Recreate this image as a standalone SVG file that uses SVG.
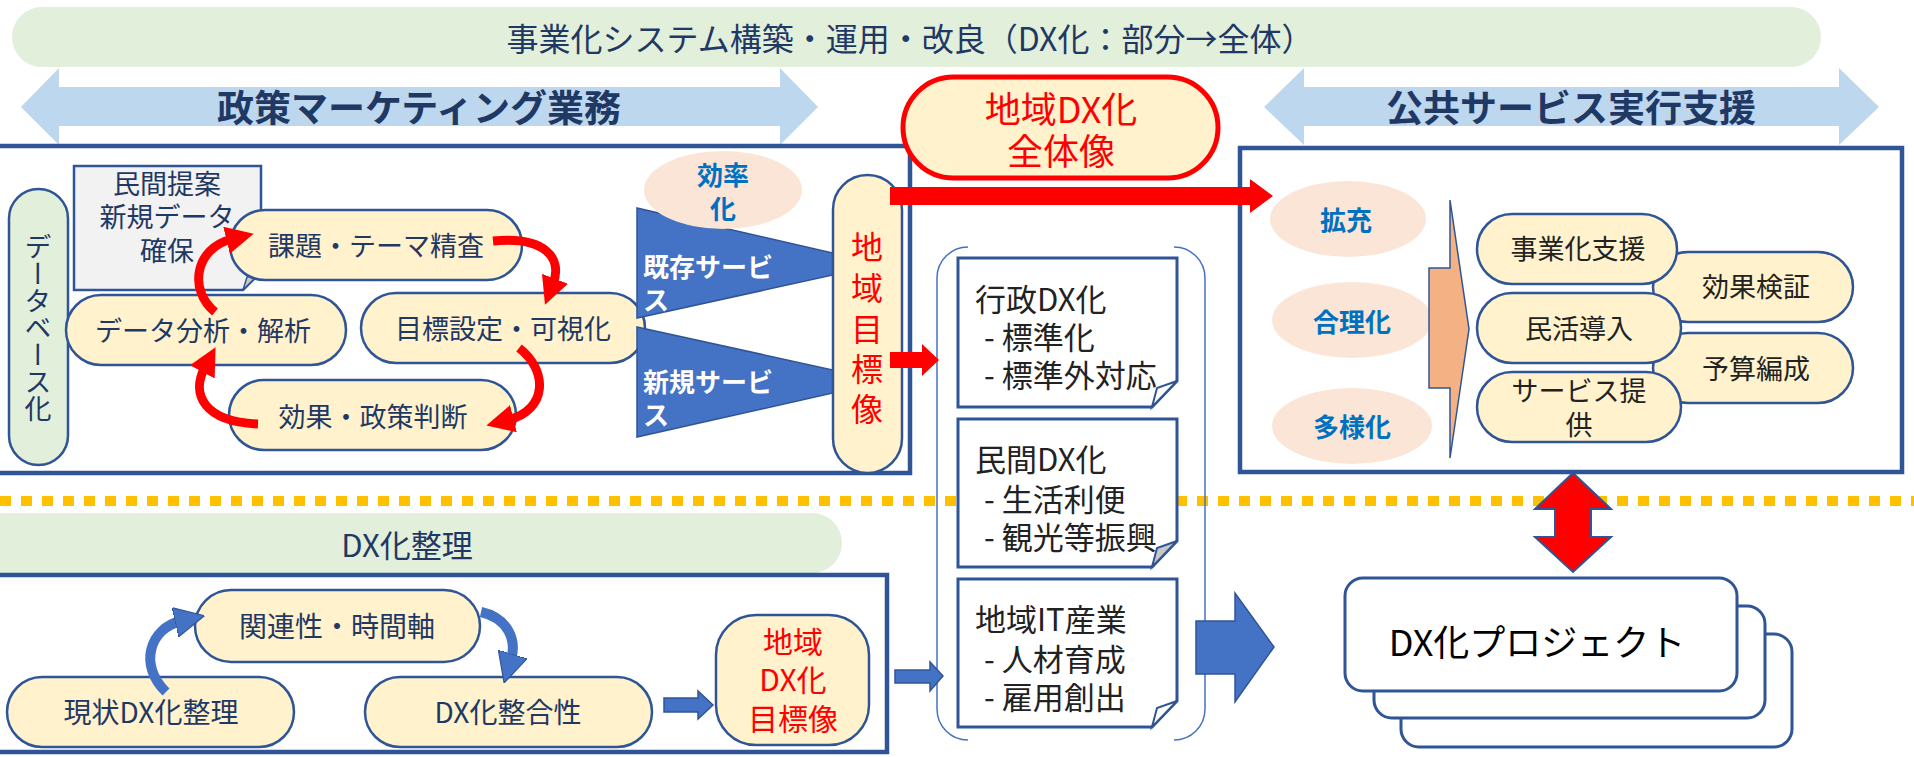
<svg xmlns="http://www.w3.org/2000/svg" width="1914" height="757" viewBox="0 0 1914 757">
<style>
.t{font-family:'Noto Sans CJK JP','Noto Sans',sans-serif;dominant-baseline:central;text-anchor:middle}
.s{text-anchor:start}
.navy{fill:#1F3864}
.dark{fill:#222222}
.red{fill:#FF0000}
.wb{fill:#FFFFFF;font-weight:bold}
.bb{fill:#0070C0;font-weight:bold}
.pill{fill:#FFF2CC;stroke:#2F5597;stroke-width:2.5}
.box{fill:#FFFFFF;stroke:#2F5597;stroke-width:4.5}
.doc{fill:#FFFFFF;stroke:#2F5597;stroke-width:3}
.green{fill:#E2EFDA}
.lb{fill:#BDD7EE}
.peach{fill:#FBE5D6}
.barrow{fill:#4472C4;stroke:#2F5597;stroke-width:1.5}
.rarrow{fill:#FF0000}
.rcurve{fill:none;stroke:#FF0000;stroke-width:9;marker-end:url(#hr)}
.bcurve{fill:none;stroke:#4472C4;stroke-width:10;marker-end:url(#hb)}
</style>
<defs>
<marker id="hr" viewBox="0 0 10 10" refX="2" refY="5" markerWidth="3.1" markerHeight="3.1" orient="auto" markerUnits="strokeWidth"><path d="M0,0 L10,5 L0,10 z" fill="#FF0000"/></marker>
<marker id="hb" viewBox="0 0 10 10" refX="2" refY="5" markerWidth="3" markerHeight="3" orient="auto" markerUnits="strokeWidth"><path d="M0,0 L10,5 L0,10 z" fill="#4472C4" stroke="#2F5597" stroke-width="0.4"/></marker>
</defs>

<!-- background banners -->
<g id="banner-top">
<rect class="green" x="12" y="7" width="1809" height="60" rx="30"/>
<text class="t navy" x="910" y="37" font-size="32">事業化システム構築・運用・改良（DX化：部分→全体）</text>
</g>
<g id="arrow-policy">
<polygon class="lb" points="21,107 59,68 59,87 780,87 780,68 818,107 780,145 780,126 59,126 59,145"/>
<text class="t navy" x="419" y="106" font-size="37" font-weight="bold">政策マーケティング業務</text>
</g>
<g id="arrow-public">
<polygon class="lb" points="1264,107 1304,68 1304,87 1839,87 1839,68 1879,107 1839,145 1839,126 1304,126 1304,145"/>
<text class="t navy" x="1571" y="106" font-size="37" font-weight="bold">公共サービス実行支援</text>
</g>

<!-- dotted divider -->
<line x1="0" y1="501" x2="1914" y2="501" stroke="#FFC000" stroke-width="10" stroke-dasharray="11 10"/>

<!-- left main box -->
<g id="box-marketing">
<rect class="box" x="-10" y="146" width="920" height="327"/>
</g>
<g id="node-database">
<rect x="9" y="189" width="59" height="276" rx="29.5" fill="#E2EFDA" stroke="#2F5597" stroke-width="2.5"/>
<text class="t navy" x="38" y="328" font-size="27" style="writing-mode:vertical-rl">データベース化</text>
</g>
<g id="node-proposal">
<path d="M74 166 H261 V272 L243 290 H74 Z" fill="#F2F2F2" stroke="#2F5597" stroke-width="2.5"/>
<path d="M243 290 L247 277 L261 272 Z" fill="#C8C8C8" stroke="#2F5597" stroke-width="1.5"/>
<text class="t navy" x="167" y="182" font-size="27">民間提案</text>
<text class="t navy" x="167" y="215" font-size="27">新規データ</text>
<text class="t navy" x="167" y="249" font-size="27">確保</text>
</g>
<g id="node-kadai">
<rect class="pill" x="230" y="210" width="292" height="70" rx="35"/>
<text class="t navy" x="376" y="244" font-size="27">課題・テーマ精査</text>
</g>
<g id="node-bunseki">
<rect class="pill" x="66" y="295" width="280" height="70" rx="35"/>
<text class="t navy" x="203" y="329" font-size="27">データ分析・解析</text>
</g>
<g id="node-mokuhyo">
<rect class="pill" x="361" y="293" width="284" height="70" rx="35"/>
<text class="t navy" x="503" y="327" font-size="27">目標設定・可視化</text>
</g>
<g id="node-koka">
<rect class="pill" x="229" y="380" width="287" height="70" rx="35"/>
<text class="t navy" x="373" y="415" font-size="27">効果・政策判断</text>
</g>
<g id="node-kizon">
<polygon class="barrow" points="637,208 833,253 833,275 637,318"/>
<text class="t s wb" x="643" y="265" font-size="26">既存サービ</text>
<text class="t s wb" x="643" y="298" font-size="26">ス</text>
</g>
<g id="node-shinki">
<polygon class="barrow" points="637,327 833,370 833,393 637,437"/>
<text class="t s wb" x="643" y="380" font-size="26">新規サービ</text>
<text class="t s wb" x="643" y="413" font-size="26">ス</text>
</g>
<g id="node-koritsu">
<ellipse class="peach" cx="723" cy="190" rx="79" ry="39"/>
<text class="t bb" x="723" y="173" font-size="26">効率</text>
<text class="t bb" x="723" y="207" font-size="26">化</text>
</g>
<g id="node-chiiki-mokuhyo">
<rect class="pill" x="833" y="175" width="69" height="298" rx="34.5"/>
<text class="t red" font-size="32"><tspan x="867" y="245">地</tspan><tspan x="867" y="286">域</tspan><tspan x="867" y="327">目</tspan><tspan x="867" y="367">標</tspan><tspan x="867" y="407">像</tspan></text>
</g>

<!-- overall pill -->
<g id="node-zentai">
<rect x="903" y="77" width="315" height="101" rx="50.5" fill="#FFF2CC" stroke="#FF0000" stroke-width="5"/>
<text class="t red" x="1061" y="107" font-size="36">地域DX化</text>
<text class="t red" x="1061" y="149" font-size="36">全体像</text>
</g>

<!-- bracket and docs -->
<g id="bracket">
<path d="M968 247 A31 31 0 0 0 937 278 V709 A31 31 0 0 0 968 740" fill="none" stroke="#4472C4" stroke-width="1.5"/>
<path d="M1174 247 A31 31 0 0 1 1205 278 V709 A31 31 0 0 1 1174 740" fill="none" stroke="#4472C4" stroke-width="1.5"/>
</g>
<g id="node-gyosei">
<path class="doc" d="M958 258 H1177 V381 L1152 407 H958 Z"/>
<path d="M1152 407 L1157 388 L1177 381 Z" fill="#FFFFFF" stroke="#2F5597" stroke-width="2"/>
<text class="t s dark" x="975" y="297" font-size="31">行政DX化</text>
<text class="t s dark" x="984" y="335" font-size="31">- 標準化</text>
<text class="t s dark" x="984" y="373" font-size="31">- 標準外対応</text>
</g>
<g id="node-minkan">
<path class="doc" d="M958 419 H1177 V541 L1152 567 H958 Z"/>
<path d="M1152 567 L1157 548 L1177 541 Z" fill="#C8C8C8" stroke="#2F5597" stroke-width="2"/>
<text class="t s dark" x="975" y="457" font-size="31">民間DX化</text>
<text class="t s dark" x="984" y="497" font-size="31">- 生活利便</text>
<text class="t s dark" x="984" y="535" font-size="31">- 観光等振興</text>
</g>
<g id="node-it">
<path class="doc" d="M958 579 H1177 V701 L1152 727 H958 Z"/>
<path d="M1152 727 L1157 708 L1177 701 Z" fill="#FFFFFF" stroke="#2F5597" stroke-width="2"/>
<text class="t s dark" x="975" y="617" font-size="31">地域IT産業</text>
<text class="t s dark" x="984" y="657" font-size="31">- 人材育成</text>
<text class="t s dark" x="984" y="695" font-size="31">- 雇用創出</text>
</g>

<!-- right box -->
<g id="box-public">
<rect class="box" x="1240" y="148" width="662" height="324"/>
</g>
<g id="node-kakuju">
<ellipse class="peach" cx="1348" cy="219" rx="78" ry="38"/>
<text class="t bb" x="1346" y="218" font-size="26">拡充</text>
</g>
<g id="node-gorika">
<ellipse class="peach" cx="1352" cy="320" rx="80" ry="38"/>
<text class="t bb" x="1352" y="320" font-size="26">合理化</text>
</g>
<g id="node-tayoka">
<ellipse class="peach" cx="1352" cy="426" rx="80" ry="38"/>
<text class="t bb" x="1352" y="425" font-size="26">多様化</text>
</g>
<g id="node-orange-arrow">
<polygon points="1429,268 1450,268 1450,200 1469,329 1450,458 1450,388 1429,388" fill="#F4B183" stroke="#2F5597" stroke-width="1.5"/>
</g>
<g id="node-kensho">
<rect class="pill" x="1653" y="252" width="200" height="70" rx="35"/>
<text class="t dark" x="1756" y="285" font-size="27">効果検証</text>
</g>
<g id="node-yosan">
<rect class="pill" x="1653" y="333" width="200" height="70" rx="35"/>
<text class="t dark" x="1756" y="367" font-size="27">予算編成</text>
</g>
<g id="node-jigyoka">
<rect class="pill" x="1477" y="214" width="200" height="70" rx="35"/>
<text class="t dark" x="1578" y="247" font-size="27">事業化支援</text>
</g>
<g id="node-minkatsu">
<rect class="pill" x="1477" y="293" width="204" height="70" rx="35"/>
<text class="t dark" x="1579" y="327" font-size="27">民活導入</text>
</g>
<g id="node-service">
<rect class="pill" x="1477" y="372" width="204" height="70" rx="35"/>
<text class="t dark" x="1579" y="389" font-size="27">サービス提</text>
<text class="t dark" x="1579" y="423" font-size="27">供</text>
</g>

<!-- project stack -->
<g id="node-project">
<rect x="1401" y="634" width="391" height="113" rx="18" fill="#FFFFFF" stroke="#2F5597" stroke-width="3"/>
<rect x="1374" y="606" width="391" height="112" rx="18" fill="#FFFFFF" stroke="#2F5597" stroke-width="3"/>
<rect x="1345" y="578" width="392" height="113" rx="18" fill="#FFFFFF" stroke="#2F5597" stroke-width="3"/>
<text class="t" x="1537" y="640" font-size="36" fill="#000000">DX化プロジェクト</text>
</g>

<!-- bottom area -->
<g id="banner-bottom">
<rect class="green" x="-40" y="513" width="882" height="60" rx="30"/>
<text class="t navy" x="407" y="543" font-size="31">DX化整理</text>
</g>
<g id="box-seiri">
<rect class="box" x="-10" y="575" width="897" height="177"/>
</g>
<g id="node-kanren">
<rect class="pill" x="195" y="590" width="285" height="72" rx="36"/>
<text class="t navy" x="337" y="625" font-size="28">関連性・時間軸</text>
</g>
<g id="node-genjo">
<rect class="pill" x="7" y="677" width="287" height="70" rx="35"/>
<text class="t navy" x="151" y="711" font-size="28">現状DX化整理</text>
</g>
<g id="node-seigo">
<rect class="pill" x="365" y="677" width="287" height="70" rx="35"/>
<text class="t navy" x="508" y="711" font-size="28">DX化整合性</text>
</g>
<g id="node-mokuhyo2">
<rect class="pill" x="716" y="615" width="153" height="130" rx="40"/>
<text class="t red" x="793" y="640" font-size="30">地域</text>
<text class="t red" x="793" y="678" font-size="30">DX化</text>
<text class="t red" x="793" y="717" font-size="30">目標像</text>
</g>

<!-- connectors -->
<g id="connectors">
<path class="rcurve" d="M493 241 C545 236 563 258 553 284"/>
<path class="rcurve" d="M519 348 C548 370 548 410 508 420"/>
<path class="rcurve" d="M258 424 C205 422 190 395 205 367"/>
<path class="rcurve" d="M215 312 C188 290 195 248 232 239"/>
<path class="bcurve" d="M166 692 C138 665 150 628 181 621"/>
<path class="bcurve" d="M481 612 C508 618 517 640 511 660"/>
<polygon class="rarrow" points="890,187 1250,187 1250,179 1273,196 1250,213 1250,205 890,205"/>
<polygon class="rarrow" points="890,352 922,352 922,344 939,360 922,376 922,368 890,368"/>
<polygon class="barrow" points="664,698 698,698 698,691 713,705 698,719 698,712 664,712"/>
<polygon class="barrow" points="895,670 930,670 930,662 943,676 930,691 930,683 895,683"/>
<polygon class="barrow" points="1196,621 1235,621 1235,593 1274,647 1235,702 1235,674 1196,674"/>
<polygon points="1573,473 1611,509 1591,509 1591,537 1611,537 1573,572 1535,537 1555,537 1555,509 1535,509" fill="#FF0000" stroke="#2F5597" stroke-width="2"/>
</g>
</svg>
